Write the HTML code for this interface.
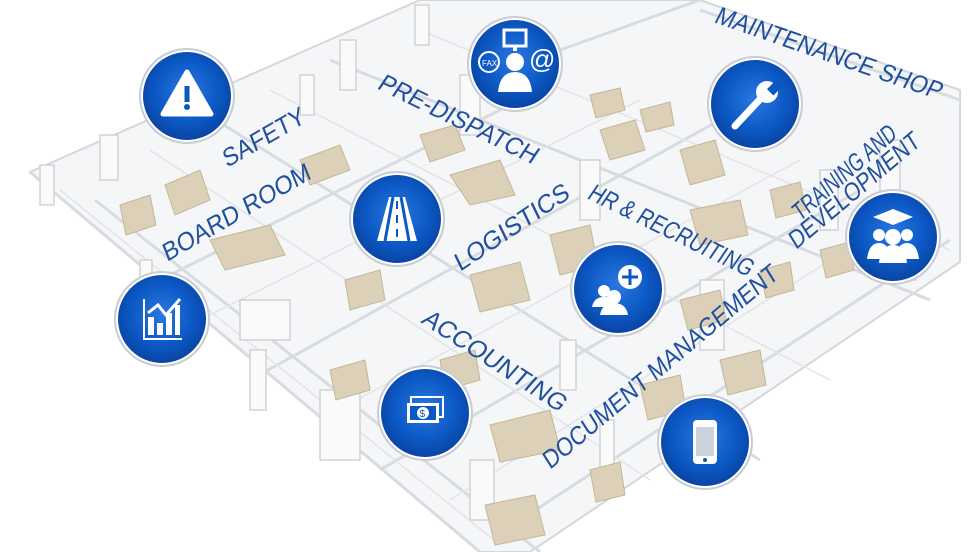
<!DOCTYPE html>
<html><head><meta charset="utf-8"><style>
html,body{margin:0;padding:0;background:#fff;width:980px;height:552px;overflow:hidden}
svg{display:block}
text{font-family:"Liberation Sans",sans-serif;fill:#1f4f9e;font-size:25px}
</style></head><body>
<svg width="980" height="552" viewBox="0 0 980 552" xmlns="http://www.w3.org/2000/svg">
<defs>
<radialGradient id="bg" cx="50%" cy="45%" r="60%">
<stop offset="0" stop-color="#2a78e0"/><stop offset="0.6" stop-color="#0b58c4"/><stop offset="1" stop-color="#0a3f9a"/>
</radialGradient>
<g id="ring"><circle r="47" fill="#fff" stroke="#c9ccd2" stroke-width="2"/><circle r="44" fill="url(#bg)"/></g>
</defs>
<!-- floor -->
<polygon points="30,172 420,0 700,0 960,90 960,262 530,552 480,552" fill="#f5f6f7" stroke="#d4d7db" stroke-width="2"/>
<g stroke="#d8dbdf" stroke-width="3" fill="none">
<line x1="30" y1="172" x2="480" y2="552"/>
<line x1="95" y1="200" x2="540" y2="552"/>
<line x1="200" y1="110" x2="760" y2="460"/>
<line x1="330" y1="60" x2="930" y2="300"/>
<line x1="700" y1="10" x2="960" y2="100"/>
<line x1="120" y1="300" x2="560" y2="80"/>
<line x1="250" y1="380" x2="720" y2="120"/>
<line x1="380" y1="470" x2="860" y2="190"/>
<line x1="520" y1="520" x2="950" y2="240"/>
<line x1="560" y1="50" x2="700" y2="0"/>
</g>
<g stroke="#e2e4e7" stroke-width="1.5" fill="none">
<line x1="60" y1="190" x2="500" y2="545"/><line x1="150" y1="150" x2="650" y2="480"/>
<line x1="270" y1="90" x2="830" y2="380"/><line x1="420" y1="30" x2="950" y2="250"/>
<line x1="180" y1="330" x2="640" y2="100"/><line x1="320" y1="420" x2="800" y2="160"/>
<line x1="450" y1="500" x2="910" y2="210"/>
</g>
<g fill="#fafafa" stroke="#d0d3d7" stroke-width="1.5">
<rect x="40" y="165" width="14" height="40"/><rect x="100" y="135" width="18" height="45"/><rect x="415" y="5" width="14" height="40"/>
<rect x="340" y="40" width="16" height="50"/><rect x="460" y="75" width="20" height="60"/><rect x="580" y="160" width="20" height="60"/>
<rect x="820" y="170" width="18" height="60"/><rect x="470" y="460" width="24" height="60"/><rect x="320" y="390" width="40" height="70"/>
<rect x="240" y="300" width="50" height="40"/><rect x="700" y="280" width="24" height="70"/><rect x="880" y="140" width="20" height="70"/>
<rect x="300" y="75" width="14" height="40"/><rect x="140" y="260" width="12" height="50"/><rect x="560" y="340" width="16" height="50"/>
<rect x="600" y="420" width="14" height="50"/><rect x="250" y="350" width="16" height="60"/><rect x="900" y="230" width="16" height="50"/>
</g>
<g fill="#dcd1b8" stroke="#c3b795" stroke-width="1">
<polygon points="165,185 200,170 210,200 175,215"/><polygon points="300,160 340,145 350,170 310,185"/>
<polygon points="420,135 455,125 465,150 430,162"/><polygon points="450,175 500,160 515,195 470,205"/>
<polygon points="600,130 635,120 645,150 610,160"/><polygon points="680,150 715,140 725,175 690,185"/>
<polygon points="345,280 380,270 385,300 350,310"/><polygon points="470,275 520,262 530,300 480,312"/>
<polygon points="550,235 590,225 598,265 560,275"/><polygon points="690,210 740,200 748,235 700,245"/>
<polygon points="680,300 720,290 726,320 688,330"/><polygon points="640,385 680,375 686,410 648,420"/>
<polygon points="490,425 550,410 560,450 500,462"/><polygon points="440,360 475,350 480,380 445,390"/>
<polygon points="330,370 365,360 370,390 336,400"/><polygon points="210,240 270,225 285,255 225,270"/>
<polygon points="485,505 535,495 545,535 495,545"/><polygon points="590,470 620,462 625,495 596,502"/>
<polygon points="720,360 760,350 766,385 728,395"/><polygon points="770,190 800,182 806,210 776,218"/>
<polygon points="120,205 150,195 156,225 126,235"/><polygon points="400,400 420,395 425,430 405,436"/>
<polygon points="760,270 790,262 794,290 766,298"/><polygon points="820,250 850,242 854,270 826,278"/>
<polygon points="590,95 620,88 625,110 596,118"/><polygon points="640,110 670,102 674,125 646,132"/>
</g>
<!-- labels -->
<text transform="translate(227,168) rotate(-30) skewX(-8)" textLength="92" lengthAdjust="spacingAndGlyphs">SAFETY</text>
<text transform="translate(167,262) rotate(-30) skewX(-8)" textLength="168" lengthAdjust="spacingAndGlyphs">BOARD ROOM</text>
<text transform="translate(376,88) rotate(26) skewX(-8)" textLength="174" lengthAdjust="spacingAndGlyphs">PRE-DISPATCH</text>
<text transform="translate(713,22) rotate(19) skewX(-8)" textLength="238" lengthAdjust="spacingAndGlyphs">MAINTENANCE SHOP</text>
<text transform="translate(800,222) rotate(-41) skewX(-8)" textLength="130" lengthAdjust="spacingAndGlyphs">TRAINING AND</text>
<text transform="translate(796,250) rotate(-40) skewX(-8)" textLength="164" lengthAdjust="spacingAndGlyphs">DEVELOPMENT</text>
<text transform="translate(460,272) rotate(-34) skewX(-8)" textLength="134" lengthAdjust="spacingAndGlyphs">LOGISTICS</text>
<text transform="translate(586,198) rotate(26) skewX(-8)" textLength="180" lengthAdjust="spacingAndGlyphs">HR &amp; RECRUITING</text>
<text transform="translate(420,322) rotate(33) skewX(-8)" textLength="166" lengthAdjust="spacingAndGlyphs">ACCOUNTING</text>
<text transform="translate(550,470) rotate(-40) skewX(-8)" textLength="300" lengthAdjust="spacingAndGlyphs">DOCUMENT MANAGEMENT</text>
<!-- circles -->
<g transform="translate(187,96)"><use href="#ring"/><path d="M0,-24 L24,18 L-24,18 Z" fill="#fff" stroke="#fff" stroke-width="5" stroke-linejoin="round"/><rect x="-2.5" y="-10" width="5" height="16" fill="#0b58c4"/><circle cy="11" r="3" fill="#0b58c4"/></g>
<g transform="translate(515,64)"><use href="#ring"/>
<rect x="-11" y="-34" width="22" height="16" fill="none" stroke="#fff" stroke-width="3"/><rect x="-2" y="-18" width="4" height="5" fill="#fff"/>
<circle cx="-26" cy="-2" r="10" fill="none" stroke="#fff" stroke-width="2"/><text x="-33" y="2" style="fill:#fff;font-size:8px">FAX</text>
<text x="14" y="4" style="fill:#fff;font-size:26px">@</text>
<circle cy="-2" r="9" fill="#fff"/><path d="M-17,28 Q-15,8 0,8 Q15,8 17,28 Z" fill="#fff"/></g>
<g transform="translate(755,104)"><use href="#ring"/><path d="M-20,22 L8,-8" stroke="#fff" stroke-width="7" stroke-linecap="round"/><circle cx="12" cy="-12" r="11" fill="#fff"/><rect x="10" y="-28" width="9" height="14" fill="#0b58c4" transform="rotate(45 12 -12)"/></g>
<g transform="translate(397,219)"><use href="#ring"/><path d="M-8,-22 L8,-22 L20,22 L-20,22 Z" fill="#fff"/><path d="M-4,-22 L-12,22 M4,-22 L12,22" stroke="#0b58c4" stroke-width="3"/><path d="M0,-18 V-10 M0,-4 V4 M0,10 V18" stroke="#0b58c4" stroke-width="2"/></g>
<g transform="translate(893,237)"><use href="#ring"/><path d="M0,-28 L20,-20 L0,-12 L-20,-20 Z" fill="#fff"/><circle cx="-14" cy="-2" r="6" fill="#fff"/><circle cx="14" cy="-2" r="6" fill="#fff"/><circle cy="0" r="8" fill="#fff"/><path d="M-26,22 Q-24,6 -14,6 Q-4,6 -2,22 Z M2,22 Q4,6 14,6 Q24,6 26,22 Z M-14,26 Q-12,8 0,8 Q12,8 14,26 Z" fill="#fff"/></g>
<g transform="translate(162,319)"><use href="#ring"/><path d="M-18,-20 V20 H20" stroke="#fff" stroke-width="2" fill="none"/><path d="M-14,16 V-2 H-8 V16 Z M-5,16 V4 H1 V16 Z M4,16 V-6 H10 V16 Z M13,16 V-14 H18 V16 Z" fill="#fff"/><path d="M-14,-6 L-4,-14 L4,-4 L18,-20" stroke="#fff" stroke-width="3" fill="none"/></g>
<g transform="translate(618,289)"><use href="#ring"/><circle cx="-14" cy="2" r="6" fill="#fff"/><path d="M-26,18 Q-24,8 -14,8 Q-4,8 -2,18 Z" fill="#fff"/><circle cx="-4" cy="8" r="7" fill="#fff"/><path d="M-18,26 Q-16,14 -4,14 Q8,14 10,26 Z" fill="#fff"/><circle cx="12" cy="-12" r="12" fill="#fff"/><path d="M12,-20 V-4 M4,-12 H20" stroke="#0b58c4" stroke-width="3"/></g>
<g transform="translate(425,413)"><use href="#ring"/><rect x="-14" y="-16" width="32" height="20" fill="none" stroke="#fff" stroke-width="2"/><rect x="-18" y="-10" width="32" height="20" fill="#fff"/><rect x="-15" y="-7" width="26" height="14" fill="#0b58c4"/><circle cx="-2" cy="0" r="6" fill="#fff"/><text x="-5.5" y="4" style="fill:#0b58c4;font-size:10px">$</text></g>
<g transform="translate(705,442)"><use href="#ring"/><rect x="-12" y="-22" width="24" height="44" rx="4" fill="#fff"/><rect x="-9" y="-15" width="18" height="29" fill="#ccd3dc"/><circle cy="18" r="2" fill="#0b58c4"/></g>
</svg>
</body></html>
